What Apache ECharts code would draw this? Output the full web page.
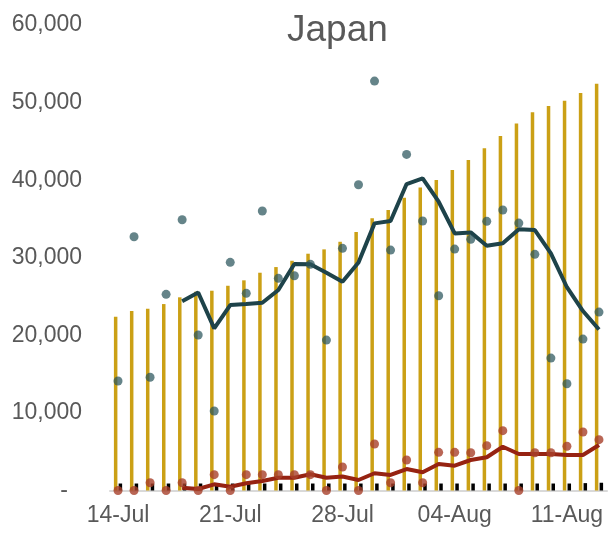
<!DOCTYPE html>
<html>
<head>
<meta charset="utf-8">
<script src="https://cdn.jsdelivr.net/npm/echarts@6/dist/echarts.min.js"></script>
<style>
  html, body { margin: 0; padding: 0; background: #fff; }
  #chart { width: 613px; height: 533px; }
</style>
</head>
<body>
<div id="chart"></div>
<script>
// x axis days
const days = [
  '14-Jul', '15-Jul', '16-Jul', '17-Jul', '18-Jul', '19-Jul', '20-Jul',
  '21-Jul', '22-Jul', '23-Jul', '24-Jul', '25-Jul', '26-Jul', '27-Jul',
  '28-Jul', '29-Jul', '30-Jul', '31-Jul', '01-Aug', '02-Aug', '03-Aug',
  '04-Aug', '05-Aug', '06-Aug', '07-Aug', '08-Aug', '09-Aug', '10-Aug',
  '11-Aug', '12-Aug', '13-Aug'
]
// gold bars
const goldBars = [
  22400, 23130, 23430, 24030, 24900, 25620, 25750,
  26390, 27090, 28070, 28800, 29610, 30520, 31080,
  32060, 33310, 35080, 36150, 37730, 39070, 40010,
  41300, 42590, 44100, 45680, 47320, 48740, 49550,
  50230, 51220, 52420
]
// small black bars
const blackBars = [
  900, 900, 900, 900, 900, 900, 900,
  900, 900, 900, 900, 900, 900, 900,
  900, 900, 900, 900, 900, 900, 900,
  900, 900, 900, 900, 900, 900, 900,
  900, 950, 1000
]
// daily points (teal)
const tealDots = [
  14110, 32710, 14590, 25280, 34900, 20040, 10240,
  29410, 25410, 36020, 27350, 27680, 29150, 19390,
  31210, 39410, 52770, 30990, 43320, 34730, 25100,
  31120, 32370, 34690, 36150, 34470, 30440, 17070,
  13760, 19520, 23000
]
// average line (teal)
const tealLine = [
  null, null, null, null, 24400, 25520, 20900,
  23900, 24030, 24200, 25840, 29190, 29150, 28070,
  26910, 29400, 34430, 34730, 39500, 40230, 37220,
  33140, 33270, 31550, 31860, 33660, 33570, 30570,
  26200, 23130, 20750
]
// daily points (red)
const redDots = [
  0, 0, 1000, 0, 1000, 0, 2040,
  0, 2040, 2040, 2040, 2040, 2040, 0,
  3030, 0, 5990, 1000, 3930, 1000, 4920,
  4920, 4870, 5780, 7710, 0, 4870, 4870,
  5700, 7540, 6550
]
// average line (red)
const redLine = [
  null, null, null, null, 360, 190, 800,
  490, 930, 1220, 1650, 1650, 2090, 1650,
  1800, 1350, 2220, 2000, 2770, 2350, 3420,
  3200, 3930, 4280, 5640, 4700, 4700, 4700,
  4570, 4570, 5860
]
// y tick values
const yTicks = [0, 10000, 20000, 30000, 40000, 50000, 60000]

const myChart = echarts.init(document.getElementById('chart'))

const option = {
  animation: false,
  textStyle: { fontFamily: 'Liberation Sans, Arial, sans-serif' },
  title: {
    text: 'Japan',
    left: 282,
    top: 7,
    textStyle: { fontSize: 37, fontWeight: 'normal', color: '#595959' }
  },
  grid: { left: 110, right: 6, top: 25, bottom: 42.5 },
  xAxis: {
    type: 'category',
    data: days,
    boundaryGap: true,
    axisLine: { lineStyle: { color: '#d9d9d9', width: 2 } },
    axisTick: { interval: 6, length: 7, lineStyle: { color: '#d9d9d9', width: 1.5 } },
    axisLabel: { interval: 6, margin: 14, fontSize: 23, color: '#595959' }
  },
  yAxis: {
    type: 'value',
    min: yTicks[0],
    max: yTicks[yTicks.length - 1],
    interval: 10000,
    splitLine: { show: false },
    axisLine: { show: false },
    axisTick: { show: false },
    axisLabel: {
      margin: 28,
      fontSize: 23,
      color: '#595959',
      formatter: function (v) {
        return v === 0 ? '{z|-}' : v.toLocaleString('en-US')
      },
      rich: { z: { fontSize: 23, color: '#595959', padding: [0, 14, 0, 0] } }
    }
  },
  series: [
    {
      name: 'gold',
      type: 'bar',
      data: goldBars,
      barWidth: 3.5,
      barGap: '35%',
      itemStyle: { color: '#cba015' },
      z: 2
    },
    {
      name: 'black',
      type: 'bar',
      data: blackBars,
      barWidth: 3.5,
      itemStyle: { color: '#000' },
      z: 2
    },
    {
      name: 'tealAvg',
      type: 'line',
      data: tealLine,
      symbol: 'none',
      lineStyle: { color: '#1e434a', width: 4 },
      z: 3
    },
    {
      name: 'redAvg',
      type: 'line',
      data: redLine,
      symbol: 'none',
      lineStyle: { color: '#962312', width: 4 },
      z: 3
    },
    {
      name: 'tealDaily',
      type: 'scatter',
      data: tealDots,
      symbolSize: 9,
      itemStyle: { color: '#2a545c', opacity: 0.72 },
      z: 4
    },
    {
      name: 'redDaily',
      type: 'scatter',
      data: redDots,
      symbolSize: 9,
      itemStyle: { color: '#a8402a', opacity: 0.8 },
      z: 4
    }
  ]
}

myChart.setOption(option)
</script>
</body>
</html>
